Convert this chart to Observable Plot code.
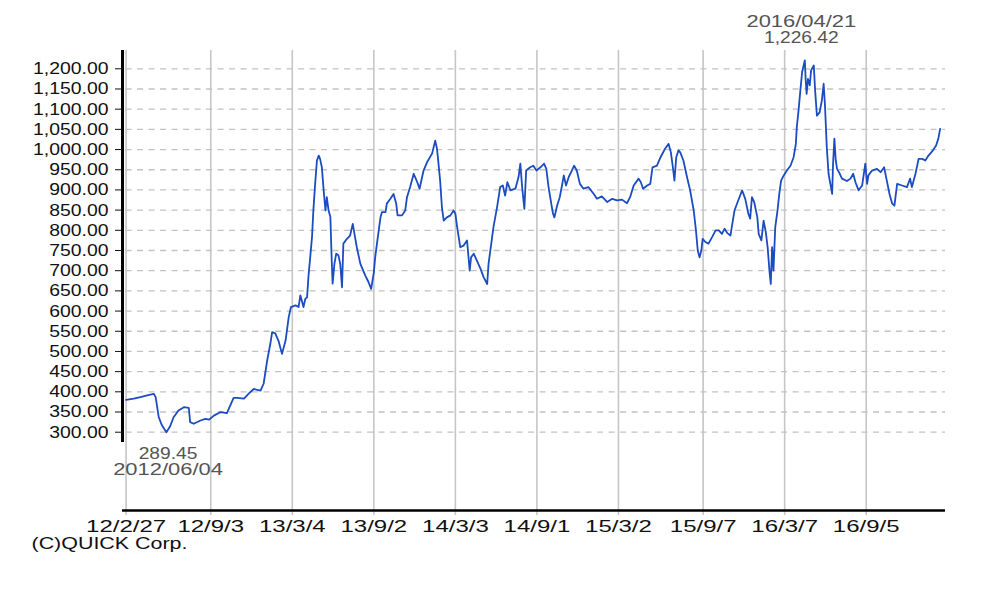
<!DOCTYPE html>
<html>
<head>
<meta charset="utf-8">
<script src="https://cdn.jsdelivr.net/npm/d3@7"></script>
<script src="https://cdn.jsdelivr.net/npm/@observablehq/plot@0.6"></script>
<style>
  html, body { margin: 0; padding: 0; background: #ffffff; }
  #chart { width: 1000px; height: 592px; }
</style>
</head>
<body>
<div id="chart"></div>
<script>
// ---- data ----
const dates = [
  "2012-02-27","2012-03-15","2012-03-30","2012-04-14","2012-04-29","2012-05-03","2012-05-10","2012-05-17","2012-05-27","2012-06-04",
  "2012-06-12","2012-06-23","2012-07-05","2012-07-16","2012-07-19","2012-07-27","2012-08-11","2012-08-22","2012-08-30","2012-09-10",
  "2012-09-25","2012-10-09","2012-10-24","2012-11-01","2012-11-16","2012-11-30","2012-12-08","2012-12-23","2012-12-30","2013-01-07",
  "2013-01-14","2013-01-18","2013-01-25","2013-02-01","2013-02-09","2013-02-17","2013-02-24","2013-03-01","2013-03-11","2013-03-18",
  "2013-03-22","2013-03-29","2013-04-02","2013-04-06","2013-04-09","2013-04-17","2013-04-20","2013-04-24","2013-04-28","2013-05-02",
  "2013-05-05","2013-05-09","2013-05-13","2013-05-17","2013-05-20","2013-05-24","2013-05-28","2013-05-31","2013-06-02","2013-06-06",
  "2013-06-10","2013-06-15","2013-06-19","2013-06-23","2013-06-26","2013-07-04","2013-07-11","2013-07-17","2013-07-22","2013-07-26",
  "2013-08-03","2013-08-14","2013-08-21","2013-08-27","2013-09-02","2013-09-05","2013-09-09","2013-09-17","2013-09-20","2013-09-28",
  "2013-10-01","2013-10-09","2013-10-16","2013-10-22","2013-10-25","2013-11-04","2013-11-11","2013-11-15","2013-11-22","2013-11-30",
  "2013-12-08","2013-12-13","2013-12-22","2013-12-30","2014-01-10","2014-01-17","2014-01-21","2014-01-24","2014-01-28","2014-02-01",
  "2014-02-05","2014-02-12","2014-02-20","2014-02-27","2014-03-03","2014-03-07","2014-03-14","2014-03-21","2014-03-29","2014-04-04",
  "2014-04-07","2014-04-13","2014-04-20","2014-04-28","2014-05-05","2014-05-13","2014-05-16","2014-05-21","2014-05-27","2014-06-04",
  "2014-06-11","2014-06-17","2014-06-22","2014-06-27","2014-07-04","2014-07-15","2014-07-22","2014-07-26","2014-07-30","2014-08-04",
  "2014-08-08","2014-08-17","2014-08-24","2014-08-31","2014-09-09","2014-09-17","2014-09-22","2014-09-27","2014-10-03","2014-10-07",
  "2014-10-10","2014-10-16","2014-10-22","2014-10-27","2014-10-31","2014-11-05","2014-11-11","2014-11-18","2014-11-23","2014-11-29",
  "2014-12-06","2014-12-14","2014-12-25","2015-01-06","2015-01-13","2015-01-24","2015-02-05","2015-02-16","2015-02-27","2015-03-10",
  "2015-03-21","2015-03-28","2015-04-05","2015-04-16","2015-04-21","2015-04-26","2015-05-05","2015-05-12","2015-05-17","2015-05-27",
  "2015-06-04","2015-06-14","2015-06-22","2015-06-27","2015-07-01","2015-07-05","2015-07-09","2015-07-14","2015-07-18","2015-07-25",
  "2015-08-02","2015-08-09","2015-08-17","2015-08-22","2015-08-26","2015-08-30","2015-09-03","2015-09-06","2015-09-12","2015-09-19",
  "2015-09-27","2015-10-05","2015-10-12","2015-10-19","2015-10-25","2015-10-31","2015-11-07","2015-11-10","2015-11-16","2015-11-23",
  "2015-12-03","2015-12-10","2015-12-17","2015-12-21","2015-12-25","2015-12-30","2016-01-06","2016-01-09","2016-01-15","2016-01-20",
  "2016-01-25","2016-01-29","2016-02-02","2016-02-05","2016-02-08","2016-02-11","2016-02-15","2016-02-20","2016-02-24","2016-02-28",
  "2016-03-05","2016-03-12","2016-03-20","2016-03-27","2016-04-01","2016-04-03","2016-04-07","2016-04-11","2016-04-15","2016-04-21",
  "2016-04-23","2016-04-25","2016-04-28","2016-05-02","2016-05-05","2016-05-11","2016-05-14","2016-05-18","2016-05-24","2016-05-29",
  "2016-06-02","2016-06-05","2016-06-09","2016-06-13","2016-06-17","2016-06-21","2016-06-23","2016-06-26","2016-06-29","2016-07-02",
  "2016-07-08","2016-07-13","2016-07-24","2016-08-01","2016-08-07","2016-08-12","2016-08-19","2016-08-27","2016-09-03","2016-09-07",
  "2016-09-10","2016-09-18","2016-09-29","2016-10-07","2016-10-15","2016-10-21","2016-10-27","2016-11-02","2016-11-07","2016-11-13",
  "2016-11-24","2016-12-05","2016-12-12","2016-12-16","2016-12-24","2016-12-31","2017-01-08","2017-01-15","2017-01-22","2017-02-01",
  "2017-02-08","2017-02-13","2017-02-17"
];
const values = [
  380,383,387,391,395,387,337,317,300,314,
  337,354,362,360,325,321,329,333,331,341,
  350,347,385,385,383,399,407,403,420,478,
  519,548,545,527,494,527,585,610,614,610,
  639,610,630,634,684,783,849,915,973,985,
  977,956,899,849,882,849,833,725,668,717,
  742,738,717,659,767,779,787,816,783,758,
  717,688,672,655,696,733,767,833,845,845,
  866,878,890,866,837,837,849,882,907,940,
  919,903,948,969,990,1022,1002,969,923,857,
  824,832,837,849,841,808,758,762,775,700,
  733,742,725,705,684,667,717,758,808,857,
  907,911,886,919,899,903,932,965,907,853,
  948,956,960,948,956,965,952,907,866,841,
  832,861,882,911,936,911,932,948,960,948,
  915,903,907,890,878,884,870,878,874,876,
  867,882,911,928,919,903,911,915,956,960,
  981,1002,1014,993,960,923,981,998,993,973,
  932,899,849,800,750,733,750,779,771,767,
  783,800,800,791,804,793,787,808,849,870,
  899,878,841,829,882,870,832,791,775,824,
  795,758,700,667,758,700,808,849,890,923,
  936,948,960,981,1014,1055,1097,1146,1192,1221,
  1171,1138,1175,1159,1196,1208,1146,1084,1092,1121,
  1163,1109,1006,940,915,890,965,1027,973,952,
  940,928,922,928,940,919,899,911,965,915,
  936,948,952,944,956,923,890,866,861,915,
  911,907,928,907,940,977,977,973,985,998,
  1010,1027,1051
];
const xTickDates = ["2012-02-27","2012-09-03","2013-03-04","2013-09-02","2014-03-03","2014-09-01","2015-03-02","2015-09-07","2016-03-07","2016-09-05"];
const yTicks = [300,350,400,450,500,550,600,650,700,750,800,850,900,950,1000,1050,1100,1150,1200];
const highDate = "2016-04-21", highValue = 1226.42;
const lowDate = "2012-06-04", lowValue = 289.45;
const credit = "(C)QUICK Corp.";

// ---- build ----
const parse = d3.utcParse("%Y-%m-%d");
const data = dates.map((d, i) => ({date: parse(d), value: values[i]}));
const ticks = xTickDates.map(parse);
const xStart = parse("2012-02-19"), xEnd = parse("2017-03-01");
const yBottom = 106.1, yTop = 1245.3, yAxisLow = 274.5, yGridLow = 93.7;
const fmtTick = d => `${d.getUTCFullYear() % 100}/${d.getUTCMonth() + 1}/${d.getUTCDate()}`;
const fmtDate = d3.utcFormat("%Y/%m/%d");
const fmtNum = d3.format(",.2f");
const high = [{date: parse(highDate), value: highValue}];
const low = [{date: parse(lowDate), value: lowValue}];

const plot = Plot.plot({
  width: 1000,
  height: 592,
  marginLeft: 122,
  marginRight: 55,
  marginTop: 50,
  marginBottom: 82,
  style: {fontFamily: "'Liberation Sans', Arial, sans-serif", background: "#ffffff", overflow: "visible"},
  x: {type: "utc", domain: [xStart, xEnd]},
  y: {domain: [yBottom, yTop]},
  marks: [
    Plot.ruleX(ticks, {y1: yGridLow, y2: yTop, stroke: "#c6c6c6", strokeWidth: 1.6}),
    Plot.ruleY(yTicks, {x1: ticks[0], x2: xEnd, stroke: "#c2c2c2", strokeWidth: 1.3, strokeDasharray: "6,5.5"}),
    Plot.ruleX([xStart], {y1: yAxisLow, y2: yTop, stroke: "#000", strokeWidth: 3}),
    Plot.ruleY([yBottom], {x1: xStart, x2: xEnd, stroke: "#000", strokeWidth: 2.5}),
    Plot.axisY(yTicks, {tickFormat: fmtNum, tickSize: 7, tickPadding: 7, fontSize: 17, label: null, color: "#111"}),
    Plot.axisX(ticks, {tickFormat: fmtTick, tickSize: 0, tickPadding: 10, fontSize: 16, label: null, color: "#111"}),
    Plot.lineY(data, {x: "date", y: "value", stroke: "#1b4cc0", strokeWidth: 1.8}),
    Plot.text(high, {x: "date", y: "value", text: d => fmtDate(d.date), dx: -3.5, dy: -36, lineAnchor: "middle", fontSize: 16, fill: "#555", ariaDescription: "date annotation"}),
    Plot.text(high, {x: "date", y: "value", text: d => fmtNum(d.value), dx: -3.5, dy: -20, lineAnchor: "middle", fontSize: 16, fill: "#555", ariaDescription: "value annotation"}),
    Plot.text(low, {x: "date", y: "value", text: d => fmtNum(d.value), dx: -2, dy: 17, lineAnchor: "middle", fontSize: 16, fill: "#555", ariaDescription: "value annotation"}),
    Plot.text(low, {x: "date", y: "value", text: d => fmtDate(d.date), dx: -2, dy: 33, lineAnchor: "middle", fontSize: 16, fill: "#555", ariaDescription: "date annotation"}),
    Plot.text([credit], {text: d => d, frameAnchor: "bottom-left", dx: -91, dy: 27, textAnchor: "start", lineAnchor: "top", fontSize: 16, fill: "#111", ariaDescription: "credit"})
  ]
});

document.getElementById("chart").append(plot);

// widen glyphs horizontally like the reference
function stretch(selector, k) {
  plot.querySelectorAll(selector).forEach(t => {
    const w = t.getComputedTextLength();
    if (w > 0) {
      t.setAttribute("textLength", (w * k).toFixed(1));
      t.setAttribute("lengthAdjust", "spacingAndGlyphs");
    }
  });
}
stretch('g[aria-label="x-axis tick label"] text', 1.5);
stretch('g[aria-label="y-axis tick label"] text', 1.14);
stretch('g[aria-description="date annotation"] text', 1.37);
stretch('g[aria-description="value annotation"] text', 1.2);
stretch('g[aria-description="credit"] text', 1.34);
</script>
</body>
</html>
